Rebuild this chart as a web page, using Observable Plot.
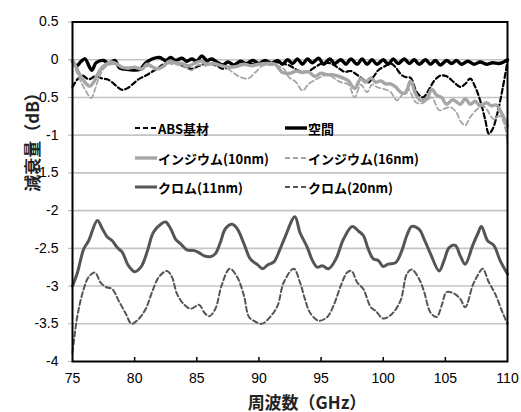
<!DOCTYPE html>
<html>
<head>
<meta charset="utf-8">
<script src="https://cdn.jsdelivr.net/npm/d3@7"></script>
<script src="https://cdn.jsdelivr.net/npm/@observablehq/plot@0.6"></script>
<style>
  html, body { margin: 0; padding: 0; background: #fff; }
  #wrap { position: relative; width: 521px; height: 412px; }
  #legend { position: absolute; left: 0; top: 0; width: 521px; height: 412px; pointer-events: none;
            font-family: "Noto Sans CJK JP", "Noto Sans", sans-serif; font-weight: bold; font-size: 13px; color: #000; }
  .item { position: absolute; display: flex; align-items: center; height: 18px; white-space: nowrap; }
  .item svg { display: block; margin-right: 1px; }
</style>
</head>
<body>
<div id="wrap"><div id="legend"></div></div>
<script>
// ---- data (frequency GHz, attenuation dB) ----
const xTicks = [75, 80, 85, 90, 95, 100, 105, 110];
const yTicks = [0.5, 0, -0.5, -1, -1.5, -2, -2.5, -3, -3.5, -4];
const yTickLabels = ["0.5", "0", "-0.5", "-1", "-1.5", "-2", "-2.5", "-3", "-3.5", "-4"];

const seriesNames = ["ABS基材", "空間", "インジウム(10nm)", "インジウム(16nm)", "クロム(11nm)", "クロム(20nm)"];

const abs = [[75.0,-0.36],[75.4,-0.26],[75.8,-0.21],[76.3,-0.26],[76.85,-0.22],[77.4,-0.25],[77.8,-0.26],[78.2,-0.30],[78.6,-0.36],[79.0,-0.40],[79.4,-0.38],[79.8,-0.33],[80.3,-0.26],[80.9,-0.21],[81.4,-0.16],[81.9,-0.11],[82.3,-0.06],[82.9,-0.03],[83.4,-0.05],[84.1,-0.10],[84.6,-0.12],[85.2,-0.08],[85.8,-0.05],[86.6,-0.08],[87.1,-0.12],[87.6,-0.10],[88.1,-0.08],[88.9,-0.05],[89.7,-0.06],[90.5,-0.03],[91.3,-0.03],[91.9,-0.05],[92.5,-0.08],[93.0,-0.13],[93.5,-0.16],[94.0,-0.15],[94.6,-0.09],[95.2,-0.04],[95.8,-0.05],[96.4,-0.11],[96.9,-0.16],[97.4,-0.15],[97.9,-0.20],[98.4,-0.26],[98.8,-0.30],[99.2,-0.23],[99.6,-0.14],[100.2,-0.08],[100.6,-0.05],[101.0,-0.10],[101.4,-0.19],[101.8,-0.23],[102.2,-0.24],[102.7,-0.43],[103.2,-0.50],[103.7,-0.39],[104.1,-0.28],[104.6,-0.21],[105.1,-0.22],[105.7,-0.30],[106.2,-0.36],[106.6,-0.32],[107.0,-0.25],[107.4,-0.36],[107.8,-0.54],[108.2,-0.79],[108.5,-0.98],[108.8,-0.92],[109.2,-0.70],[109.6,-0.39],[110.0,-0.02]];

const kukan = [[75.0,-0.02],[75.35,-0.08],[75.7,-0.02],[76.0,0.01],[76.55,-0.14],[76.9,-0.04],[77.5,-0.01],[77.9,-0.05],[78.4,-0.01],[78.8,-0.11],[79.5,-0.13],[80.4,-0.13],[80.9,-0.04],[81.4,0.01],[82.0,0.03],[82.5,-0.01],[82.9,0.03],[83.3,-0.01],[83.8,0.02],[84.2,-0.02],[84.6,0.01],[85.0,-0.02],[85.4,0.05],[85.8,-0.01],[86.2,0.01],[86.6,-0.03],[87.1,-0.07],[87.5,-0.03],[88.0,-0.07],[88.5,-0.02],[89.0,-0.05],[89.5,-0.01],[90.0,-0.05],[90.5,-0.01],[91.0,-0.05],[91.5,-0.01],[91.9,-0.06],[92.3,0.00],[92.7,-0.05],[93.1,0.01],[93.5,-0.06],[93.9,0.01],[94.3,-0.04],[94.8,0.02],[95.2,-0.06],[95.7,0.01],[96.1,-0.05],[96.6,0.00],[97.0,-0.06],[97.4,0.01],[97.9,-0.06],[98.3,0.01],[98.7,-0.06],[99.1,0.00],[99.5,-0.06],[100.0,0.00],[100.4,-0.06],[100.8,0.01],[101.2,-0.05],[101.7,0.01],[102.1,-0.05],[102.5,0.00],[102.9,-0.06],[103.4,0.00],[103.8,-0.06],[104.2,-0.01],[104.6,-0.07],[105.1,-0.01],[105.5,-0.05],[105.9,-0.01],[106.3,-0.06],[106.8,-0.02],[107.3,-0.06],[107.8,-0.03],[108.3,-0.06],[108.8,-0.04],[109.3,-0.05],[109.7,-0.03],[110.0,0.00]];

const indium10 = [[75.0,-0.01],[75.3,-0.10],[75.6,-0.20],[76.0,-0.30],[76.4,-0.35],[76.7,-0.30],[77.0,-0.20],[77.4,-0.10],[77.8,-0.05],[78.1,-0.03],[78.6,-0.06],[79.0,-0.10],[79.5,-0.11],[80.0,-0.10],[80.6,-0.12],[81.0,-0.06],[81.5,-0.10],[81.9,-0.12],[82.3,-0.09],[82.8,-0.02],[83.3,-0.04],[83.8,-0.05],[84.3,-0.08],[84.8,-0.05],[85.3,-0.02],[85.8,-0.06],[86.4,-0.05],[87.0,-0.08],[87.6,-0.10],[88.2,-0.09],[88.8,-0.06],[89.4,-0.08],[90.0,-0.06],[90.6,-0.05],[91.3,-0.06],[91.9,-0.17],[92.5,-0.18],[93.0,-0.15],[93.5,-0.17],[94.0,-0.16],[94.5,-0.22],[95.0,-0.18],[95.5,-0.20],[96.0,-0.20],[96.6,-0.23],[97.2,-0.28],[97.7,-0.38],[98.2,-0.25],[98.6,-0.30],[99.0,-0.24],[99.4,-0.30],[99.8,-0.28],[100.2,-0.32],[100.6,-0.32],[101.0,-0.36],[101.4,-0.43],[101.8,-0.44],[102.2,-0.28],[102.6,-0.45],[103.0,-0.54],[103.5,-0.52],[103.9,-0.39],[104.3,-0.47],[104.7,-0.50],[105.1,-0.59],[105.6,-0.53],[106.2,-0.59],[106.6,-0.52],[107.0,-0.59],[107.4,-0.55],[107.8,-0.61],[108.3,-0.57],[108.7,-0.61],[109.1,-0.60],[109.5,-0.70],[109.8,-0.80],[110.0,-0.88]];

const indium16 = [[75.0,-0.03],[75.3,-0.15],[75.7,-0.30],[76.1,-0.42],[76.5,-0.51],[76.8,-0.40],[77.1,-0.25],[77.5,-0.12],[77.9,-0.07],[78.4,-0.06],[78.9,-0.09],[79.4,-0.12],[80.0,-0.10],[80.6,-0.13],[81.1,-0.08],[81.6,-0.13],[82.1,-0.10],[82.6,-0.05],[83.1,-0.06],[83.6,-0.07],[84.1,-0.10],[84.6,-0.14],[85.1,-0.07],[85.7,-0.08],[86.3,-0.06],[86.9,-0.08],[87.5,-0.12],[88.0,-0.18],[88.5,-0.23],[89.1,-0.25],[89.7,-0.17],[90.3,-0.08],[90.9,-0.07],[91.5,-0.08],[92.0,-0.12],[92.4,-0.23],[93.0,-0.30],[93.5,-0.41],[94.0,-0.32],[94.5,-0.27],[95.1,-0.22],[95.6,-0.20],[96.1,-0.25],[96.6,-0.30],[97.2,-0.33],[97.7,-0.50],[98.2,-0.33],[98.7,-0.43],[99.1,-0.33],[99.6,-0.37],[100.1,-0.39],[100.6,-0.43],[101.1,-0.54],[101.5,-0.47],[102.0,-0.39],[102.6,-0.56],[103.1,-0.58],[103.5,-0.54],[103.9,-0.50],[104.5,-0.67],[104.9,-0.65],[105.4,-0.63],[105.9,-0.70],[106.2,-0.81],[106.6,-0.87],[107.0,-0.76],[107.6,-0.65],[108.0,-0.61],[108.3,-0.65],[108.9,-0.79],[109.3,-0.74],[109.7,-0.83],[110.0,-1.12]];

const chrome11 = [[75.0,-3.00],[75.4,-2.82],[75.9,-2.51],[76.3,-2.40],[77.0,-2.13],[77.4,-2.24],[77.8,-2.35],[78.2,-2.40],[78.6,-2.49],[79.0,-2.55],[79.5,-2.73],[80.0,-2.81],[80.5,-2.75],[81.0,-2.55],[81.5,-2.29],[82.1,-2.18],[82.5,-2.15],[82.9,-2.24],[83.3,-2.38],[83.7,-2.44],[84.2,-2.52],[84.8,-2.53],[85.2,-2.56],[85.6,-2.60],[86.1,-2.61],[86.5,-2.57],[86.9,-2.42],[87.3,-2.24],[87.85,-2.18],[88.25,-2.24],[88.8,-2.44],[89.3,-2.64],[89.9,-2.72],[90.3,-2.77],[90.7,-2.72],[91.2,-2.68],[91.7,-2.51],[92.1,-2.35],[92.9,-2.08],[93.3,-2.29],[93.9,-2.49],[94.3,-2.66],[94.7,-2.75],[95.1,-2.73],[95.6,-2.77],[96.2,-2.64],[96.8,-2.38],[97.5,-2.21],[98.0,-2.27],[98.4,-2.33],[98.8,-2.51],[99.2,-2.64],[99.6,-2.66],[100.0,-2.74],[100.4,-2.71],[101.0,-2.69],[101.5,-2.53],[101.9,-2.33],[102.3,-2.21],[102.9,-2.25],[103.3,-2.38],[103.8,-2.57],[104.5,-2.80],[104.9,-2.66],[105.3,-2.49],[105.8,-2.46],[106.2,-2.60],[106.6,-2.71],[107.2,-2.46],[107.6,-2.31],[107.9,-2.21],[108.4,-2.40],[108.9,-2.46],[109.4,-2.66],[110.0,-2.84]];

const chrome20 = [[75.0,-3.88],[75.4,-3.39],[75.9,-3.04],[76.3,-2.88],[76.8,-2.82],[77.25,-2.95],[77.65,-3.01],[78.2,-3.04],[78.7,-3.19],[79.3,-3.37],[79.75,-3.50],[80.3,-3.44],[80.9,-3.30],[81.4,-3.08],[81.95,-2.88],[82.6,-2.80],[83.0,-2.88],[83.4,-3.10],[83.95,-3.24],[84.5,-3.30],[85.2,-3.25],[85.6,-3.35],[86.0,-3.40],[86.5,-3.30],[87.0,-2.99],[87.65,-2.77],[88.25,-2.88],[88.8,-3.13],[89.2,-3.41],[89.7,-3.47],[90.25,-3.50],[90.9,-3.41],[91.5,-3.26],[92.0,-2.95],[92.8,-2.77],[93.3,-2.95],[93.7,-3.17],[94.1,-3.35],[94.8,-3.46],[95.5,-3.41],[96.0,-3.26],[96.6,-2.99],[97.1,-2.82],[97.45,-2.80],[97.9,-2.95],[98.4,-3.04],[99.0,-3.28],[99.4,-3.33],[100.0,-3.43],[100.7,-3.37],[101.4,-3.19],[101.9,-2.84],[102.3,-2.78],[102.9,-2.91],[103.3,-3.08],[103.8,-3.35],[104.3,-3.41],[104.7,-3.26],[105.1,-3.08],[105.7,-3.10],[106.2,-3.17],[106.6,-3.28],[107.2,-2.99],[107.6,-2.86],[108.0,-2.77],[108.5,-2.95],[109.0,-3.10],[109.6,-3.35],[110.0,-3.50]];

// ---- styles ----
const seriesData = [abs, kukan, indium10, indium16, chrome11, chrome20];
const seriesStyle = [
  {stroke: "#000000", strokeWidth: 2.2, dash: "5,3"},
  {stroke: "#000000", strokeWidth: 3.4, dash: null},
  {stroke: "#a6a6a6", strokeWidth: 3.4, dash: null},
  {stroke: "#a6a6a6", strokeWidth: 1.8, dash: "5,3"},
  {stroke: "#555555", strokeWidth: 3.0, dash: null},
  {stroke: "#555555", strokeWidth: 2.0, dash: "5,3"}
];

const lineMarks = seriesData.map((data, i) => Plot.line(data, {
  x: d => d[0], y: d => d[1],
  stroke: seriesStyle[i].stroke,
  strokeWidth: seriesStyle[i].strokeWidth,
  strokeDasharray: seriesStyle[i].dash,
  curve: "catmull-rom",
  strokeLinejoin: "round"
}));

const innerX = xTicks.slice(1, -1);
const innerY = yTicks.slice(1, -1);

const chart = Plot.plot({
  width: 521, height: 412,
  marginLeft: 72, marginRight: 14, marginTop: 21.5, marginBottom: 51,
  style: {fontFamily: "'Liberation Sans', Arial, sans-serif", fontSize: "14px", color: "#000", background: "#fff", overflow: "visible"},
  x: {domain: [75, 110]},
  y: {domain: [-4, 0.5]},
  marks: [
    Plot.gridY(innerY, {stroke: "#c4c4c4", strokeOpacity: 1, strokeWidth: 1.6}),
    Plot.axisY(yTicks, {anchor: "left", tickSize: 4, tickPadding: 10, stroke: "#b0b0b0", fontSize: 14, label: null,
      tickFormat: (d, i) => yTickLabels[yTicks.indexOf(d)]}),
    Plot.axisX(xTicks, {anchor: "bottom", tickSize: 0, tickPadding: 12, fontSize: 14, label: null, tickFormat: d => String(d)}),
    Plot.axisX(innerX, {anchor: "bottom", tickSize: 4, dy: -4, text: null, stroke: "#000", strokeWidth: 1.5, label: null}),
    ...lineMarks,
    Plot.frame({stroke: "#000", strokeWidth: 2}),
    Plot.text(["周波数（GHz）"], {frameAnchor: "bottom", dy: 47, dx: 17, fontSize: 17, fontWeight: "bold",
      fontFamily: "'Noto Sans CJK JP', sans-serif", fill: "#222"}),
    Plot.text(["減衰量（dB）"], {frameAnchor: "left", dx: -39, rotate: -90, fontSize: 17, fontWeight: "bold",
      fontFamily: "'Noto Sans CJK JP', sans-serif", fill: "#222"})
  ]
});

const wrap = document.getElementById("wrap");
wrap.insertBefore(chart, wrap.firstChild);

// ---- legend (HTML overlay inside plot area) ----
const legendPos = [[135, 119], [285, 119], [135, 149], [285, 149], [135, 178], [285, 178]];
const legend = document.getElementById("legend");
seriesNames.forEach((name, i) => {
  const st = seriesStyle[i];
  const item = document.createElement("div");
  item.className = "item";
  item.style.left = legendPos[i][0] + "px";
  item.style.top = legendPos[i][1] + "px";
  item.innerHTML = `<svg width="22" height="10"><line x1="0" y1="5" x2="22" y2="5" stroke="${st.stroke}" stroke-width="${st.strokeWidth}" ${st.dash ? `stroke-dasharray="${st.dash}"` : ""}/></svg><span>${name}</span>`;
  legend.appendChild(item);
});
</script>
</body>
</html>
